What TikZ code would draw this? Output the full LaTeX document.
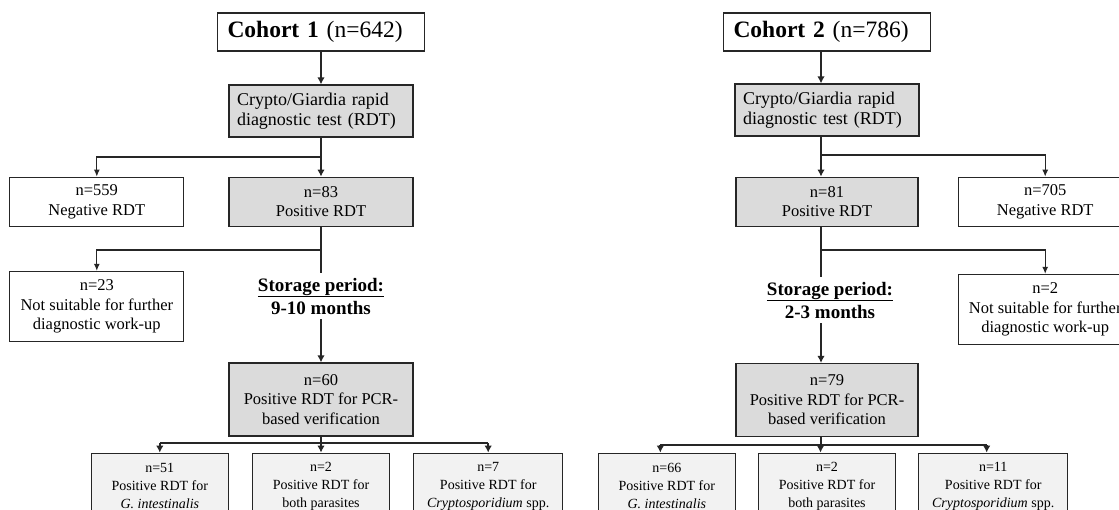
\documentclass[tikz,border=0pt]{standalone}
\usepackage{fontspec}
\setmainfont{Liberation Serif}
\usetikzlibrary{arrows.meta,positioning}

\begin{document}
\begin{tikzpicture}[x=1pt, y=-1pt, node distance=40pt,
    box/.style={rectangle, draw=black!85, line width=1.2pt, align=center, inner sep=0pt, text=black, font=\fontsize{16.5}{19.5}\selectfont},
    graybox/.style={box, fill=black!14},
    lightbox/.style={box, fill=black!5, minimum height=66pt, font=\fontsize{14}{18}\selectfont},
    cohortbox/.style={box, minimum width=207pt, minimum height=38pt, inner xsep=10pt, text width=187pt, align=left, font=\fontsize{23.5}{28}\selectfont},
    rdtbox/.style={graybox, minimum width=184pt, minimum height=52pt, inner xsep=8pt, text width=168pt, align=left, font=\fontsize{18}{19.5}\selectfont},
    storage/.style={inner sep=5pt, align=center, font=\fontsize{19}{23}\selectfont\bfseries},
    trunk/.style={draw=black!85, line width=2.2pt},
    twig/.style={draw=black!85, line width=1.1pt},
    fork/.style={draw=black!85, line width=2.7pt},
    bigtip/.style={-{Latex[length=7pt,width=7.5pt]}},
    smalltip/.style={-{Latex[length=7pt,width=6pt]}}
]
    \useasboundingbox (0,0) rectangle (1119,509);
    \clip (0,0) rectangle (1119,509);
    \fill[white] (0,0) rectangle (1119,509);

    \node (CohortOne) [cohortbox] at (321,32) {\textbf{Cohort 1} (n=642)};
    \node (RdtOne) [rdtbox] at (321,111) {Crypto/Giardia rapid\\diagnostic test (RDT)};
    \node (PositiveOne) [graybox, minimum width=184pt, minimum height=49pt, below=39pt of RdtOne] {n=83\\Positive RDT};
    \node (NegativeOne) [box, minimum width=174pt, minimum height=49pt, left=44pt of PositiveOne] {n=559\\Negative RDT};
    \node (UnsuitableOne) [box, minimum width=174pt, minimum height=70pt, below=44pt of NegativeOne] {n=23\\Not suitable for further\\diagnostic work-up};
    \node (StorageOne) [storage] at (321,296) {\underline{Storage period:}\\9-10 months};
    \node (PcrOne) [graybox, minimum width=184pt, minimum height=73pt] at (321,399.5) {n=60\\Positive RDT for PCR-\\based verification};
    \node (BothOne) [lightbox, minimum width=137pt, below=16pt of PcrOne] {n=2\\Positive RDT for\\both parasites};
    \node (GiardiaOne) [lightbox, minimum width=137pt, left=23pt of BothOne] {n=51\\Positive RDT for\\\textit{G. intestinalis}};
    \node (CryptoOne) [lightbox, minimum width=149pt, right=23pt of BothOne] {n=7\\Positive RDT for\\\textit{Cryptosporidium} spp.};

    \draw[trunk, bigtip] (CohortOne) -- (RdtOne);
    \draw[trunk, bigtip] (RdtOne) -- (PositiveOne);
    \coordinate (SplitOne) at (321,157);
    \draw[twig, smalltip] (SplitOne) -| (NegativeOne.north);
    \coordinate (DropOne) at (321,250);
    \draw[twig, smalltip] (DropOne) -| (UnsuitableOne.north);
    \draw[trunk] (PositiveOne) -- (StorageOne);
    \draw[trunk, bigtip] (StorageOne) -- (PcrOne);
    \coordinate (ForkOne) at (321,443);
    \draw[trunk] (PcrOne) -- (ForkOne);
    \draw[fork] (GiardiaOne.north |- ForkOne) -- (CryptoOne.north |- ForkOne);
    \foreach \leaf in {GiardiaOne, BothOne, CryptoOne}
        \draw[trunk, bigtip] (\leaf.north |- ForkOne) -- (\leaf);

    \coordinate (AxisTwo) at (821,0);
    \node (CohortTwo) [cohortbox] at (827,32) {\textbf{Cohort 2} (n=786)};
    \node (RdtTwo) [rdtbox] at (827,110) {Crypto/Giardia rapid\\diagnostic test (RDT)};
    \node (PositiveTwo) [graybox, minimum width=182pt, minimum height=49pt, below=40pt of RdtTwo] {n=81\\Positive RDT};
    \node (NegativeTwo) [box, minimum width=174pt, minimum height=49pt, right=39pt of PositiveTwo] {n=705\\Negative RDT};
    \node (UnsuitableTwo) [box, minimum width=174pt, minimum height=70pt, below=47pt of NegativeTwo] {n=2\\Not suitable for further\\diagnostic work-up};
    \node (StorageTwo) [storage] at (830,300) {\underline{Storage period:}\\2-3 months};
    \node (PcrTwo) [graybox, minimum width=182pt, minimum height=73pt] at (827,400) {n=79\\Positive RDT for PCR-\\based verification};
    \node (BothTwo) [lightbox, minimum width=137pt, below=15.5pt of PcrTwo] {n=2\\Positive RDT for\\both parasites};
    \node (GiardiaTwo) [lightbox, minimum width=137pt, left=22pt of BothTwo] {n=66\\Positive RDT for\\\textit{G. intestinalis}};
    \node (CryptoTwo) [lightbox, minimum width=149pt, right=22pt of BothTwo] {n=11\\Positive RDT for\\\textit{Cryptosporidium} spp.};

    \draw[trunk, bigtip] (CohortTwo.south -| AxisTwo) -- (RdtTwo.north -| AxisTwo);
    \draw[trunk, bigtip] (RdtTwo.south -| AxisTwo) -- (PositiveTwo.north -| AxisTwo);
    \coordinate (SplitTwo) at (821,155);
    \draw[twig, smalltip] (SplitTwo) -| (NegativeTwo.north);
    \coordinate (DropTwo) at (821,250);
    \draw[twig, smalltip] (DropTwo) -| (UnsuitableTwo.north);
    \draw[trunk] (PositiveTwo.south -| AxisTwo) -- (StorageTwo.north -| AxisTwo);
    \draw[trunk, bigtip] (StorageTwo.south -| AxisTwo) -- (PcrTwo.north -| AxisTwo);
    \coordinate (ForkTwo) at (821,445);
    \draw[trunk] (PcrTwo.south -| AxisTwo) -- (ForkTwo);
    \draw[fork] ([xshift=-6.5pt]GiardiaTwo.north |- ForkTwo) -- ([xshift=-6.5pt]CryptoTwo.north |- ForkTwo);
    \foreach \leaf in {GiardiaTwo, BothTwo, CryptoTwo}
        \draw[trunk, bigtip] ([xshift=-6.5pt]\leaf.north |- ForkTwo) -- ([xshift=-6.5pt]\leaf.north);
\end{tikzpicture}
\end{document}
